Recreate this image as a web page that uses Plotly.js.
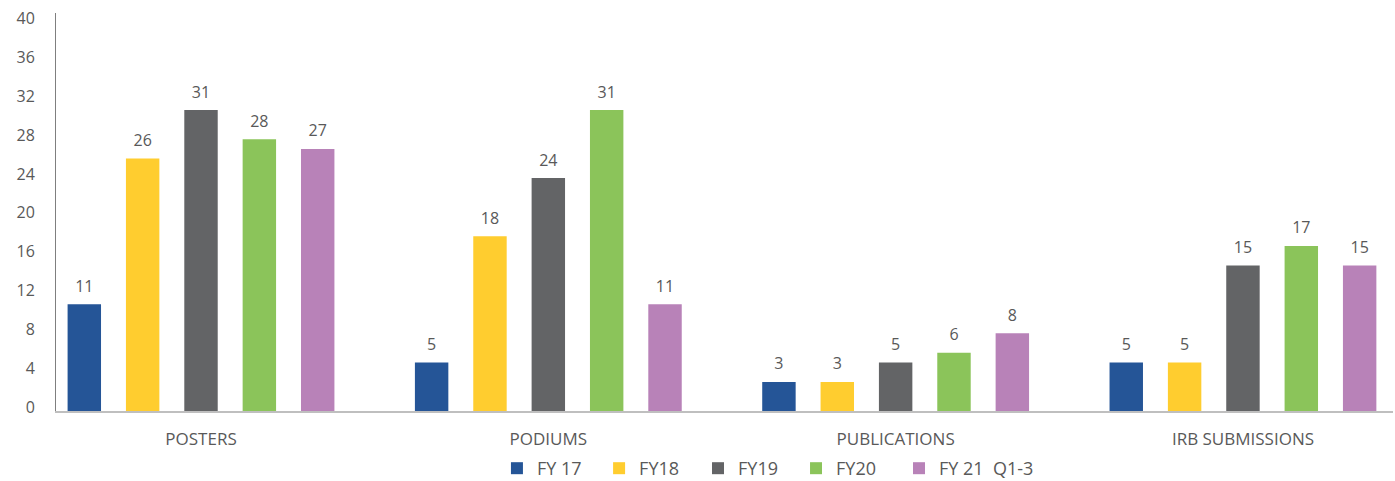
<!DOCTYPE html>
<html>
<head>
<meta charset="utf-8">
<script src="https://cdn.plot.ly/plotly-3.0.1.min.js"></script>
<style>html,body{margin:0;padding:0;background:#fff;}#chart{width:1395px;height:481px;}</style>
</head>
<body>
<div id="chart"></div>
<script>
var categories = ['POSTERS', 'PODIUMS', 'PUBLICATIONS', 'IRB SUBMISSIONS'];
var seriesNames = ['FY 17', 'FY18', 'FY19', 'FY20', 'FY 21  Q1-3'];
var fy17 = [11, 5, 3, 5];
var fy18 = [26, 18, 3, 5];
var fy19 = [31, 24, 5, 15];
var fy20 = [28, 31, 6, 17];
var fy21 = [27, 11, 8, 15];
var yTicks = [0, 4, 8, 12, 16, 20, 24, 28, 32, 36, 40];

var seriesValues = [fy17, fy18, fy19, fy20, fy21];
var colors = ['#255597', '#FFCD2F', '#636466', '#8BC45A', '#B882B8'];
var legendX = [0.3298, 0.4062, 0.4802, 0.5535, 0.6305];
var textColor = '#595959';
var fontFam = 'Open Sans, Lato, sans-serif';

var legendIds = ['legend', 'legend2', 'legend3', 'legend4', 'legend5'];

var traces = [];
seriesValues.forEach(function (vals, i) {
  traces.push({
    type: 'bar', x: categories, y: vals, name: seriesNames[i],
    offsetgroup: String(i), alignmentgroup: 'a', legend: legendIds[i],
    marker: {color: colors[i]}, hoverinfo: 'none'
  });
});
seriesValues.forEach(function (vals, i) {
  traces.push({
    type: 'scatter', mode: 'markers+text', x: categories, y: vals,
    orientation: 'v', offsetgroup: String(i), alignmentgroup: 'a',
    text: vals.map(String), textposition: 'top center',
    textfont: {family: fontFam, size: 16, color: textColor},
    marker: {size: 12, opacity: 0}, showlegend: false, hoverinfo: 'none',
    cliponaxis: false
  });
});

var layout = {
  width: 1395, height: 481,
  margin: {l: 56, r: 2, t: 13, b: 70, pad: 0},
  paper_bgcolor: '#fff', plot_bgcolor: '#fff',
  font: {family: fontFam, size: 16, color: textColor},
  barmode: 'group', bargap: 0.16, bargroupgap: 0.427,
  scattermode: 'group', scattergap: 0.16,
  showlegend: true,
  xaxis: {type: 'category', range: [-0.4175, 3.432], showline: true, linecolor: '#BFBFBF', linewidth: 1.5,
          ticks: '', showgrid: false, zeroline: false, fixedrange: true, ticklabelstandoff: 12,
          tickfont: {family: fontFam, size: 17, color: textColor}},
  yaxis: {range: [0, 41], tickvals: yTicks, showline: true, linecolor: '#7F7F7F', linewidth: 1,
          showgrid: false, zeroline: false, ticks: '', ticklabelstandoff: 17, ticklabelshift: -4,
          tickfont: {family: fontFam, size: 16, color: textColor}}
};
legendIds.forEach(function (id, i) {
  layout[id] = {orientation: 'h', x: legendX[i], xanchor: 'left', yref: 'container', y: 0.026, yanchor: 'middle',
                bgcolor: 'rgba(0,0,0,0)',
                font: {family: fontFam, size: 18, color: textColor}};
});

Plotly.newPlot('chart', traces, layout, {displayModeBar: false, staticPlot: true});
</script>
</body>
</html>
